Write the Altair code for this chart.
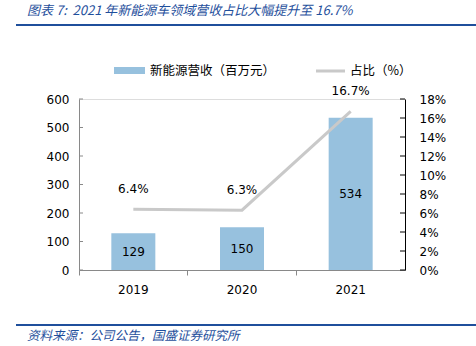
import altair as alt
import pandas as pd

years = ["2019", "2020", "2021"]
revenue = [129, 150, 534]
share = [0.064, 0.063, 0.167]
share_labels = ["6.4%", "6.3%", "16.7%"]
left_ticks = [0, 100, 200, 300, 400, 500, 600]
right_ticks = [0, 0.02, 0.04, 0.06, 0.08, 0.10, 0.12, 0.14, 0.16, 0.18]

title_text = "图表 7:\u00a0 2021 年新能源车领域营收占比大幅提升至 16.7%"
source_text = "资料来源：公司公告，国盛证券研究所"
legend_bar = "新能源营收（百万元）"
legend_line = "占比（%）"

df = pd.DataFrame({"year": years, "revenue": revenue, "share": share, "slabel": share_labels})
df["half"] = df["revenue"] / 2
lt = pd.DataFrame({"v": left_ticks})
rt = pd.DataFrame({"v": right_ticks})
one = pd.DataFrame({"a": [0]})

FONT = "DejaVu Sans"
CJK = "Noto Sans CJK SC"
BLUE = "#97c1de"
GREY = "#c9c9c9"
NAVY = "#1f4f9c"

xenc = alt.X("year:N", sort=years, title=None,
             scale=alt.Scale(paddingInner=0, paddingOuter=0),
             axis=alt.Axis(labelFont=FONT, labelFontSize=12, labelColor="#000", labelAngle=0,
                           labelPadding=9, domainColor="#898989", tickColor="#898989",
                           tickSize=5, bandPosition=0, grid=False))

yl = alt.Scale(domain=[0, 600], nice=False)
yr = alt.Scale(domain=[0, 0.18], nice=False)

bars = alt.Chart(df).mark_bar(color=BLUE, size=44).encode(
    x=xenc,
    y=alt.Y("revenue:Q", scale=yl, title=None,
            axis=alt.Axis(orient="left", values=left_ticks, labelFont=FONT, labelFontSize=12,
                          labelColor="#000", labelPadding=10, ticks=False, domainColor="#898989",
                          grid=False)),
)
bar_text = alt.Chart(df).mark_text(font=FONT, fontSize=12, color="#000").encode(
    x=alt.X("year:N", sort=years),
    y=alt.Y("half:Q", scale=yl, axis=None),
    text="revenue:Q",
)
line = alt.Chart(df).mark_line(color=GREY, strokeWidth=3).encode(
    x=alt.X("year:N", sort=years),
    y=alt.Y("share:Q", scale=yr, title=None,
            axis=alt.Axis(orient="right", values=right_ticks, format=".0%", labelFont=FONT,
                          labelFontSize=12, labelColor="#000", labelPadding=14, ticks=False,
                          domainColor="#000", grid=False)),
)
line_text = alt.Chart(df).mark_text(font=FONT, fontSize=12, color="#000", dy=-20).encode(
    x=alt.X("year:N", sort=years),
    y=alt.Y("share:Q", scale=yr, axis=None),
    text="slabel:N",
)
lticks = alt.Chart(lt).mark_rule(color="#898989").encode(
    x=alt.value(0), x2=alt.value(4), y=alt.Y("v:Q", scale=yl, axis=None))
rticks = alt.Chart(rt).mark_rule(color="#000").encode(
    x=alt.value(321), x2=alt.value(326), y=alt.Y("v:Q", scale=yr, axis=None))

title = alt.Chart(one).mark_text(font=CJK, fontSize=13, fontStyle="italic", color=NAVY,
                                 align="left", baseline="middle").encode(
    x=alt.value(-52), y=alt.value(-88), text=alt.value(title_text))
top_rule = alt.Chart(one).mark_rule(color=NAVY, strokeWidth=2).encode(
    x=alt.value(-63), x2=alt.value(397), y=alt.value(-74))
bot_rule = alt.Chart(one).mark_rule(color=NAVY, strokeWidth=2).encode(
    x=alt.value(-63), x2=alt.value(397), y=alt.value(226))
source = alt.Chart(one).mark_text(font=CJK, fontSize=12.5, fontStyle="italic", color=NAVY,
                                  align="left", baseline="middle").encode(
    x=alt.value(-52), y=alt.value(237), text=alt.value(source_text))
leg_rect = alt.Chart(one).mark_rect(color=BLUE).encode(
    x=alt.value(35), x2=alt.value(66), y=alt.value(-32), y2=alt.value(-25))
leg_t1 = alt.Chart(one).mark_text(font=CJK, fontSize=12.5, color="#000", align="left",
                                  baseline="middle").encode(
    x=alt.value(71), y=alt.value(-28), text=alt.value(legend_bar))
leg_line = alt.Chart(one).mark_rule(color=GREY, strokeWidth=3).encode(
    x=alt.value(237), x2=alt.value(266), y=alt.value(-28))
leg_t2 = alt.Chart(one).mark_text(font=CJK, fontSize=12.5, color="#000", align="left",
                                  baseline="middle").encode(
    x=alt.value(271), y=alt.value(-28), text=alt.value(legend_line))

chart = alt.layer(
    bars, line, bar_text, line_text, lticks, rticks,
    title, top_rule, bot_rule, source, leg_rect, leg_t1, leg_line, leg_t2,
).resolve_scale(y="independent").properties(
    width=326, height=171,
    autosize=alt.AutoSizeParams(type="none"),
    padding={"left": 79, "top": 99, "right": 71, "bottom": 76},
).configure_view(stroke=None).configure(background="white")

chart.save("out.html", embed_options={"renderer": "svg", "actions": False})
